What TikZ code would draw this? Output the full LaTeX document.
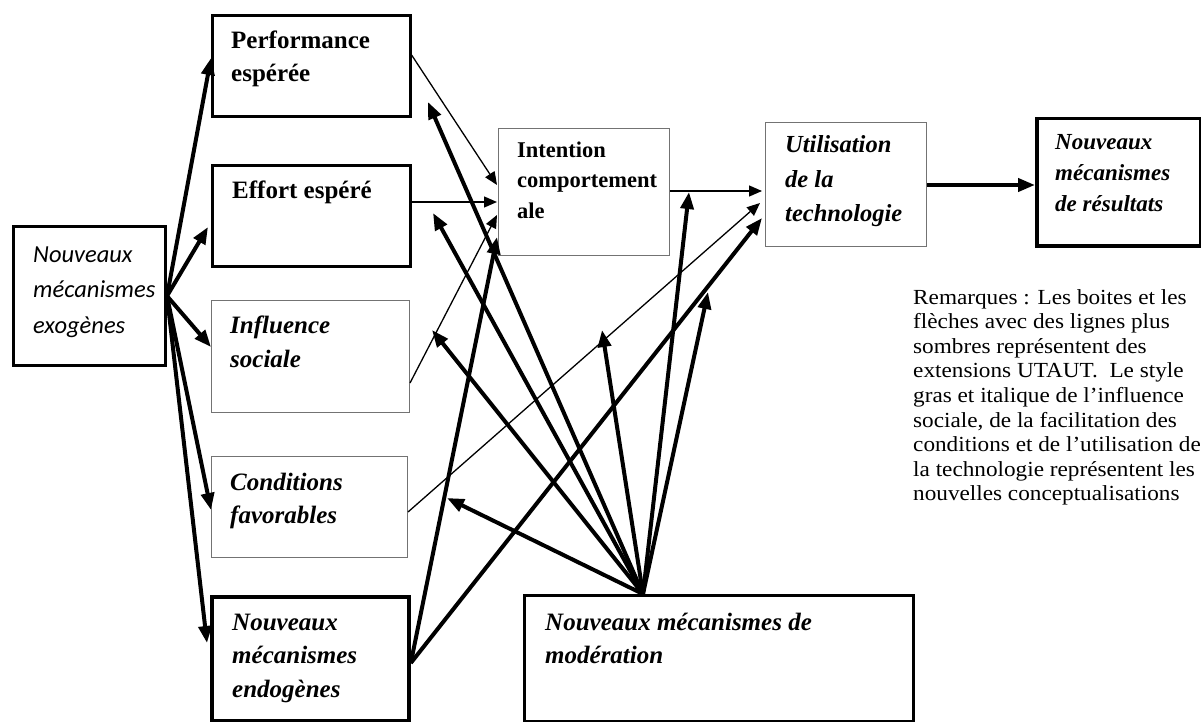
\documentclass[tikz,border=0pt]{standalone}
\usepackage{fontspec}
\setmainfont{Liberation Serif}
\newfontfamily\exofont{Carlito}
\newfontfamily\remfont[FakeStretch=1.08]{Liberation Serif}
\usetikzlibrary{arrows.meta,calc}
\tikzset{
  thickbox/.style={draw=black, line width=3pt, inner sep=0pt, anchor=north west},
  thinbox/.style={draw=black!55, line width=1pt, inner sep=0pt, anchor=north west},
  txt/.style={inner sep=0pt, anchor=base west},
  thickarr/.style={line width=4pt, -{Triangle[length=17pt,width=13pt]}},
  thinarr/.style={line width=1.3pt, -{Triangle[length=13pt,width=11pt]}},
}
\newcommand\linestack[2]{\vtop{\baselineskip=#1pt\lineskiplimit=-50pt\relax #2}}
\begin{document}
\begin{tikzpicture}[x=1pt,y=-1pt]
\useasboundingbox (0,0) rectangle (1201,722);
% boxes
\node[thickbox, minimum width=152pt, minimum height=139pt] (exo) at (12,225) {};
\node[thickbox, line width=2.6pt, minimum width=198pt, minimum height=101pt] (perf) at (211,14) {};
\node[thickbox, line width=2.6pt, minimum width=198pt, minimum height=101pt] (eff) at (211,164) {};
\node[thinbox, minimum width=198pt, minimum height=112pt] (infl) at (211,300) {};
\node[thinbox, minimum width=196pt, minimum height=101pt] (cond) at (211,456) {};
\node[thickbox, line width=3.8pt, minimum width=197pt, minimum height=124pt] (endo) at (210,595) {};
\node[thinbox, minimum width=171pt, minimum height=127pt] (int) at (498,128) {};
\node[thinbox, minimum width=161pt, minimum height=124pt] (util) at (765,122) {};
\node[thickbox, line width=3.5pt, minimum width=164pt, minimum height=127pt] (res) at (1035,117) {};
\node[thickbox, minimum width=389pt, minimum height=126pt] (mod) at (523,594) {};
% texts
\node[txt, font=\exofont\itshape\fontsize{24.5}{35}\selectfont] (exot) at (33,262)
  {\linestack{35.5}{\hbox{Nouveaux}\hbox{mécanismes}\hbox{exogènes}}};
\node[txt, font=\bfseries\fontsize{25}{33}\selectfont] (perft) at (231,49)
  {\linestack{33}{\hbox{Performance}\hbox{espérée}}};
\node[txt, font=\bfseries\fontsize{25}{33}\selectfont] (efft) at (232,198) {Effort espéré};
\node[txt, font=\bfseries\itshape\fontsize{25}{34}\selectfont] (inflt) at (230,333)
  {\linestack{34}{\hbox{Influence}\hbox{sociale}}};
\node[txt, font=\bfseries\itshape\fontsize{25}{33}\selectfont] (condt) at (230,490)
  {\linestack{33}{\hbox{Conditions}\hbox{favorables}}};
\node[txt, font=\bfseries\itshape\fontsize{25}{33.5}\selectfont] (endot) at (232,630)
  {\linestack{33.5}{\hbox{Nouveaux}\hbox{mécanismes}\hbox{endogènes}}};
\node[txt, font=\bfseries\fontsize{22.5}{30}\selectfont] (intt) at (517,158)
  {\linestack{30}{\hbox{Intention}\hbox{comportement}\hbox{ale}}};
\node[txt, font=\bfseries\itshape\fontsize{24.5}{34.5}\selectfont] (utilt) at (785,153)
  {\linestack{34.5}{\hbox{Utilisation}\hbox{de la}\hbox{technologie}}};
\node[txt, font=\bfseries\itshape\fontsize{23}{31}\selectfont] (rest) at (1055,150)
  {\linestack{31}{\hbox{Nouveaux}\hbox{mécanismes}\hbox{de résultats}}};
\node[txt, font=\bfseries\itshape\fontsize{25}{33}\selectfont] (modt) at (545,630)
  {\linestack{33}{\hbox{Nouveaux mécanismes de}\hbox{modération}}};
\node[txt, font=\remfont\fontsize{21.5}{24.6}\selectfont] (rem) at (913,304)
  {\linestack{24.6}{%
   \hbox{Remarques : Les boites et les}%
   \hbox{flèches avec des lignes plus}%
   \hbox{sombres représentent des}%
   \hbox{extensions UTAUT.~~Le style}%
   \hbox{gras et italique de l’influence}%
   \hbox{sociale, de la facilitation des}%
   \hbox{conditions et de l’utilisation de}%
   \hbox{la technologie représentent les}%
   \hbox{nouvelles conceptualisations}}};
% free ends of moderating arrows
\coordinate (hub) at ($(mod.north west)+(120,0)$);
\coordinate (mPerf) at (428,102);
\coordinate (mEff) at (433,213);
\coordinate (mInf) at (432,330);
\coordinate (mCond) at (447,498);
\coordinate (mCU) at (602,330);
\coordinate (mIU) at (689,192);
\coordinate (mEU) at (708,292);
% thin arrows
\draw[thinarr] ($(perf.north east)+(0,41)$) -- ($(int.north west)+(-1,57)$);
\draw[thinarr] ($(eff.north east)+(0,38)$) -- ($(int.north west)+(-1,74)$);
\draw[thinarr] ($(infl.north east)+(0,83)$) -- ($(int.north west)+(-1,87)$);
\draw[thinarr] ($(cond.north east)+(0,56)$) -- ($(util.north west)+(-5,81)$);
\draw[thinarr] ($(int.north east)+(0,63)$) -- ($(util.north west)+(-3,69)$);
% thick arrows from exogenous
\draw[thickarr] (exo.east) -- ($(perf.north west)+(0,44)$);
\draw[thickarr] (exo.east) -- ($(eff.north west)+(-3,63)$);
\draw[thickarr] (exo.east) -- ($(infl.north west)+(0,47)$);
\draw[thickarr] (exo.east) -- ($(cond.north west)+(0,54)$);
\draw[thickarr] (exo.east) -- ($(endo.north west)+(-3,48)$);
% thick arrows from endogenous
\draw[thickarr] ($(endo.north east)+(0,68)$) -- ($(int.north west)+(-1,109)$);
\draw[thickarr] ($(endo.north east)+(0,68)$) -- ($(util.north west)+(-3,96)$);
% outcome
\draw[thickarr] ($(util.north east)+(0,63)$) -- ($(res.north west)+(0,68)$);
% moderation
\foreach \t in {mPerf,mEff,mInf,mCond,mCU,mIU,mEU}
  \draw[thickarr] (hub) -- (\t);
\end{tikzpicture}
\end{document}
